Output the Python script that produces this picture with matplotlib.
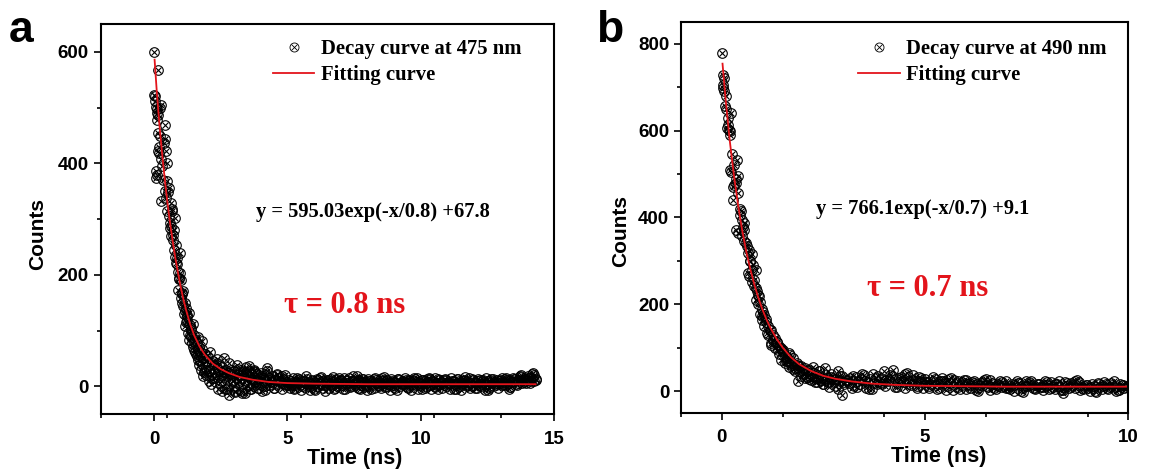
import numpy as np
import matplotlib.pyplot as plt
from matplotlib.lines import Line2D
from matplotlib.legend_handler import HandlerTuple

# ---- panel a : decay at 475 nm ----
early_a_t = [0, 0.16, 0, 0.03, 0.07, 0.1, 0.27, 0.22, 0.16, 0.12, 0.41, 0.21, 0.41, 0.37, 0.14, 0.18,
             0.44, 0.48, 0.07, 0.11, 0.09, 0.48, 0.55, 0.52, 0.27, 0.62, 0.66, 0.68, 0.79, 0.58, 0.62,
             0.75, 0.7, 0.82, 0.96, 0.86, 0.82, 0.96, 0.92, 0.89, 1.03, 1.0, 1.1, 1.15, 1.23, 1.16,
             1.37, 1.26, 1.3, 1.42, 1.78, 1.51, 1.58, 1.64, 1.7, 1.85, 1.9, 2.0, 2.19, 2.05, 2.3, 2.47,
             2.4, 2.63, 2.7, 2.81, 2.9, 3.0, 3.1, 3.2, 3.3, 3.42, 3.5, 3.56, 3.7, 3.8, 3.9, 4.04, 4.1,
             4.25, 4.4, 4.6, 4.79,
             1.05, 1.12, 1.2, 1.25, 1.35, 1.4, 1.45, 1.48, 1.55, 1.6, 1.65, 1.72, 1.75, 1.8, 1.88, 1.95,
             2.1, 2.15, 2.25, 2.35, 2.5, 2.55, 2.6, 2.75, 2.85, 2.95, 3.05, 3.15, 3.25, 3.35, 3.45, 3.6,
             3.65, 3.75, 3.85, 3.95, 4.15, 4.3, 4.5, 4.7, 4.9]
early_a_y = [600, 567, 523, 512, 502, 497, 505, 500, 487, 478, 469, 449, 443, 436, 422, 418,
             422, 401, 386, 380, 374, 368, 356, 348, 332, 329, 318, 314, 302, 293, 288,
             281, 272, 254, 239, 230, 221, 203, 195, 173, 167, 158, 144, 135, 126, 108,
             105, 95, 84, 78, 81, 66, 58, 48, 38, 18, 30, 45, 42, 10, 25, 6,
             -5, 51, 15, -15, 30, 0, 38, 12, -8, -12, 22, 36, 5, 25, -2, -9, 15,
             33, 8, 20, 18,
             150, 130, 115, 120, 92, 88, 70, 80, 62, 55, 65, 45, 30, 40, 25, 20,
             28, 5, 15, 35, 20, -8, 28, -5, 22, 10, -10, 20, 30, 5, 25, -5,
             15, 28, 12, 20, 0, 12, -2, 10, 5]
rise_a_t = np.linspace(0.05, 0.95, 19)
rise_a_y = [520, 490, 455, 430, 408, 395, 370, 350, 338, 315, 305, 285, 270, 262, 245, 232, 220, 205, 192]
knee_a_t = np.linspace(1.0, 1.95, 20)
knee_a_y = [190, 165, 172, 150, 140, 128, 132, 110, 102, 112, 92, 85, 78, 88, 70, 62, 68, 52, 58, 45]
band_a_t = np.linspace(2.0, 4.95, 60)
band_a_y = [55, 30, 62, 22, 45, 38, 15, 50, 28, 40,
            10, 35, 25, -5, 30, 18, 42, 5, 22, 12,
            28, -8, 15, 32, 8, 20, -12, 25, 12, 35,
            2, 18, 28, -5, 14, 30, 8, 22, -2, 16,
            24, 6, 12, -6, 20, 28, 2, 15, 10, 18,
            -3, 12, 22, 5, 16, 8, -4, 14, 20, 3]
tail_a_t = np.linspace(5.0, 14.3, 94)
tail_a_y = [8, -2, 15, 3, 12, -6, 10, 18, 0, 6,
            -4, 14, 5, 9, -8, 12, 2, 17, -3, 7,
            11, -5, 6, 15, 1, 9, 19, -2, 13, 4,
            -6, 10, 3, 16, 7, -3, 12, 0, 8, 14,
            2, -7, 11, 5, 15, -1, 9, 4, 13, -4,
            7, 12, 1, 15, -5, 8, 3, 11, -2, 14,
            6, -4, 10, 2, 13, -6, 9, 4, 16, 0,
            8, -3, 12, 5, -7, 10, 1, 14, 6, -2,
            11, 3, 15, -4, 8, 13, 2, 17, 6, 10,
            18, 7, 24, 12]
tail_a2_t = np.linspace(5.05, 14.25, 93)
tail_a2_y = [12, 3, -5, 16, 6, 10, -1, 14, 4, 9,
             -7, 11, 17, 2, 8, -3, 13, 5, 0, 15,
             7, -4, 12, 3, 18, 6, -2, 10, 14, 1,
             9, -5, 13, 7, 2, 16, -1, 11, 5, 8,
             -3, 14, 6, 10, 0, 12, -6, 9, 15, 3,
             11, -2, 7, 13, 4, 16, -4, 8, 2, 12,
             5, 10, -5, 14, 1, 9, 17, 3, -3, 11,
             6, 13, 0, 8, 15, -2, 10, 4, 12, 7,
             2, 14, 9, -1, 16, 5, 11, 20, 8, 13,
             15, 22, 9]
tail_a3_t = np.linspace(5.03, 14.33, 94)
tail_a3_y = [3, 10, -3, 7, 14, 0, 9, 5, -6, 12,
             8, 1, 15, -2, 6, 11, 4, -5, 13, 9,
             2, 16, 7, -1, 10, 5, 12, -4, 8, 3,
             14, 6, -3, 11, 1, 9, 17, 4, -6, 10,
             7, 13, 0, 5, 12, -2, 8, 15, 3, 6,
             -4, 10, 14, 2, 9, -1, 13, 5, 11, 0,
             8, 16, 4, -5, 10, 6, 12, 1, 7, 14,
             -3, 9, 3, 11, 5, -6, 13, 8, 2, 10,
             15, 4, 12, -1, 9, 14, 6, 19, 11, 7,
             16, 10, 21, 14]
fit_a_t = [0.02, 0.1, 0.2, 0.3, 0.4, 0.5, 0.6, 0.7, 0.8, 0.9, 1.0, 1.1, 1.2, 1.35, 1.5, 1.7, 1.9,
           2.2, 2.5, 2.8, 3.2, 3.7, 4.3, 5, 6, 8, 10, 12, 14.3]
fit_a_y = [586, 530, 470, 418, 372, 330, 293, 260, 230, 203, 178, 156, 137, 112, 92, 72, 57,
           41, 31, 24, 17, 12, 8, 6, 5, 4, 4, 4, 4]

# ---- panel b : decay at 490 nm ----
early_b_t = [0, 0.04, 0.02, 0.04, 0.06, 0.07, 0.1, 0.24, 0.13, 0.15, 0.2, 0.18, 0.38, 0.2, 0.23,
             0.4, 0.35, 0.31, 0.28, 0.27, 0.47, 0.44, 0.36, 0.4, 0.56, 0.52, 0.5, 0.55, 0.62, 0.66,
             0.74, 0.65, 0.68, 0.85, 0.8, 0.75, 0.85, 0.9, 1.02, 0.95, 0.98, 1.05, 1.11, 1.15, 1.2,
             1.25, 1.3, 1.38, 1.42, 1.47, 1.5, 1.55, 1.6, 1.65, 1.73, 1.8, 1.87, 1.9, 1.95, 2.0,
             2.09, 2.15, 2.2, 2.3, 2.4, 2.54, 2.5, 2.6, 2.7, 2.8, 2.9, 2.96, 3.0,
             0.7, 0.78, 0.88, 0.92, 1.0, 1.08, 1.18, 1.22, 1.35, 1.45, 1.58, 1.68, 1.75, 1.85,
             2.05, 2.25, 2.35, 2.45, 2.65, 2.75, 2.85]
early_b_y = [779, 729, 705, 698, 690, 656, 650, 641, 606, 612, 598, 602, 533, 510, 505,
             495, 488, 475, 470, 441, 414, 405, 372, 365, 387, 378, 356, 345, 333, 325,
             316, 272, 265, 279, 241, 250, 210, 200, 183, 178, 164, 150, 133, 128, 110,
             118, 100, 95, 85, 72, 90, 65, 78, 55, 64, 45, 22, 58, 35, 48,
             48, 28, 40, 20, 45, 52, 15, 30, 40, 12, 35, -9, 20,
             300, 290, 230, 220, 172, 160, 140, 105, 112, 100, 70, 82, 50, 60,
             30, 55, 30, 25, 20, 28, 45]
rise_b_t = np.linspace(0.05, 1.45, 29)
rise_b_y = [720, 680, 630, 590, 545, 520, 480, 455, 420, 395, 370, 340, 318, 300, 278, 255, 238, 222,
            205, 190, 176, 165, 150, 140, 130, 122, 112, 104, 96]
knee_b_t = np.linspace(1.5, 3.05, 32)
knee_b_y = [95, 80, 70, 88, 60, 75, 52, 65, 45, 58,
            40, 52, 32, 48, 25, 42, 35, 20, 45, 30,
            15, 38, 25, 10, 32, 20, 28, 5, 22, 35, 15, 25]
tail_b_t = np.linspace(3.1, 10.0, 70)
tail_b_y = [25, 8, 32, 15, 38, 20, 5, 30, 18,
            45, 22, 35, 10, 28, 40, 16, 26, 8, 30,
            20, 12, 32, 5, 24, 18, 28, 3, 22, 14,
            25, 8, 18, 0, 20, 12, 26, 6, 15, 10,
            22, 4, 14, 18, -2, 12, 24, 8, 16, 2,
            14, 20, 5, 12, -4, 18, 9, 22, 3, 11,
            6, 15, -3, 10, 20, 4, 13, 0, 17, 8, 12]
tail_b2_t = np.linspace(3.15, 9.95, 69)
tail_b2_y = [30, 12, 22, 40, 8, 28, 18, 35, 15, 25,
             38, 10, 30, 20, 42, 14, 24, 32, 6, 20,
             16, 28, 8, 22, 12, 30, 18, 4, 25, 15,
             20, 2, 14, 26, 10, 18, 5, 22, 12, 8,
             16, 24, 0, 12, 20, 6, 15, 10, 22, 4,
             10, 16, 2, 20, 8, 13, 25, 6, 14, 0,
             12, 18, 5, 15, 9, 22, 2, 14, 10]
tail_b3_t = np.linspace(3.12, 9.98, 70)
tail_b3_y = [18, 35, 10, 28, 22, 5, 40, 15, 30, 12,
             26, 48, 18, 32, 8, 24, 36, 12, 20, 28,
             8, 24, 15, 30, 2, 18, 26, 10, 20, 5,
             14, 22, 6, 18, 28, 3, 16, 12, 20, 8,
             12, 0, 18, 8, 22, 14, 4, 16, 10, 20,
             6, 15, 24, 2, 12, 18, 8, 20, 4, 14,
             9, 0, 16, 12, 6, 18, 10, 3, 14, 11]
fit_b_t = [0.02, 0.1, 0.2, 0.3, 0.4, 0.5, 0.6, 0.7, 0.8, 0.9, 1.0, 1.1, 1.2, 1.35, 1.5, 1.7, 1.9,
           2.2, 2.5, 2.8, 3.2, 3.7, 4.3, 5, 6, 7, 8, 9, 10]
fit_b_y = [754, 668, 575, 497, 430, 372, 323, 282, 246, 215, 188, 165, 145, 120, 100, 78, 62,
           46, 35, 28, 22, 17, 14, 12, 11, 10, 10, 10, 10]

t_a = np.concatenate([early_a_t, rise_a_t, knee_a_t, band_a_t, tail_a_t, tail_a2_t, tail_a3_t])
y_a = np.concatenate([early_a_y, rise_a_y, knee_a_y, band_a_y, tail_a_y, tail_a2_y, tail_a3_y])
t_b = np.concatenate([early_b_t, rise_b_t, knee_b_t, tail_b_t, tail_b2_t, tail_b3_t])
y_b = np.concatenate([early_b_y, rise_b_y, knee_b_y, tail_b_y, tail_b2_y, tail_b3_y])

panels = [
    dict(t=t_a, y=y_a, ft=fit_a_t, fy=fit_a_y, label='Decay curve at 475 nm',
         eq='y = 595.03exp(-x/0.8) +67.8', tau='τ = 0.8 ns',
         rect=[0.0875, 0.1222, 0.394, 0.827], xlim=(-2, 15), ylim=(-50, 650),
         xt=[0, 5, 10, 15], yt=[0, 200, 400, 600], xmin=2.5, ymin=100,
         eqpos=(0.3415, 0.518), taupos=(0.4045, 0.279), leg=(0.38, 0.962),
         xlab=(0.559, -0.085), ylab=(-0.118, 0.463), letter='a', lx=0.008),
    dict(t=t_b, y=y_b, ft=fit_b_t, fy=fit_b_y, label='Decay curve at 490 nm',
         eq='y = 766.1exp(-x/0.7) +9.1', tau='τ = 0.7 ns',
         rect=[0.5917, 0.1256, 0.3886, 0.8278], xlim=(-1, 10), ylim=(-50, 850),
         xt=[0, 5, 10], yt=[0, 200, 400, 600, 800], xmin=2.5, ymin=100,
         eqpos=(0.301, 0.521), taupos=(0.416, 0.317), leg=(0.396, 0.957),
         xlab=(0.575, -0.085), ylab=(-0.114, 0.465), letter='b', lx=0.518),
]

serif = 'Liberation Serif'
sans = 'Liberation Sans'
red = '#e3141b'

fig = plt.figure(figsize=(11.51, 4.72), dpi=100)
for p in panels:
    ax = fig.add_axes(p['rect'])
    # circle with a cross : open circle + x on top
    ax.plot(p['t'], p['y'], 'o', ms=6.9, mfc='none', mec='black', mew=0.8)
    ax.plot(p['t'], p['y'], 'x', ms=4.9, mec='black', mew=0.8)
    ax.plot(p['ft'], p['fy'], '-', color=red, lw=1.3)

    ax.set_xlim(p['xlim'])
    ax.set_ylim(p['ylim'])
    ax.set_xticks(p['xt'])
    ax.set_yticks(p['yt'])
    ax.set_xticks(np.arange(p['xlim'][0], p['xlim'][1] + 0.01, p['xmin']), minor=True)
    ax.set_yticks(np.arange(0, p['ylim'][1], p['ymin']), minor=True)
    ax.tick_params(which='both', direction='out', width=1.2, top=False, right=False)
    ax.tick_params(which='major', length=5)
    ax.tick_params(which='minor', length=3)
    ax.tick_params(axis='x', which='major', pad=7)
    for s in ax.spines.values():
        s.set_linewidth(1.5)
    for lab in ax.get_xticklabels() + ax.get_yticklabels():
        lab.set_fontfamily(sans)
        lab.set_fontweight('bold')
        lab.set_fontsize(13.5)
    ax.set_xlabel('Time (ns)', fontfamily=sans, fontweight='bold', fontsize=15.5)
    ax.set_ylabel('Counts', fontfamily=sans, fontweight='bold', fontsize=15)
    ax.xaxis.set_label_coords(*p['xlab'])
    ax.yaxis.set_label_coords(*p['ylab'])

    h_data = (Line2D([], [], ls='none', marker='o', ms=6.5, mfc='none', mec='black', mew=0.6),
              Line2D([], [], ls='none', marker='x', ms=4.6, mec='black', mew=0.6))
    h_fit = Line2D([], [], color=red, lw=1.3)
    ax.legend([h_data, h_fit], [p['label'], 'Fitting curve'],
              handler_map={tuple: HandlerTuple(ndivide=1)},
              loc='upper left', bbox_to_anchor=p['leg'], frameon=False,
              borderpad=0, borderaxespad=0, handlelength=2.0, handletextpad=0.3,
              labelspacing=0.3, prop={'family': serif, 'weight': 'bold', 'size': 14.9})

    ax.text(p['eqpos'][0], p['eqpos'][1], p['eq'], transform=ax.transAxes,
            fontfamily=serif, fontweight='bold', fontsize=14.8, va='center')
    ax.text(p['taupos'][0], p['taupos'][1], p['tau'], transform=ax.transAxes,
            fontfamily=serif, fontweight='bold', fontsize=22, color=red, va='center')
    fig.text(p['lx'], 0.91, p['letter'], fontfamily=sans, fontweight='bold', fontsize=32)

plt.savefig('out.png', dpi=100)
